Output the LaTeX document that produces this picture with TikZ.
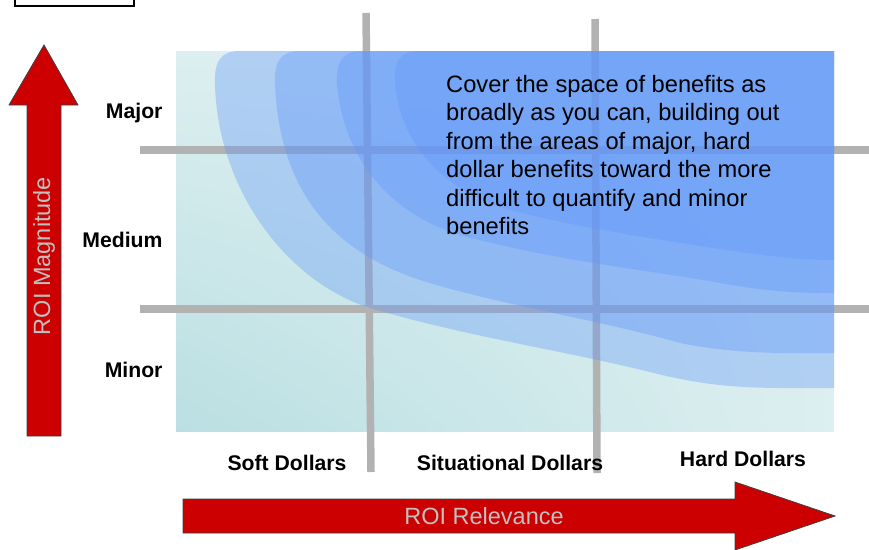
\documentclass[tikz,border=0pt]{standalone}
\usepackage{fontspec}
\setmainfont{Liberation Sans}
\usetikzlibrary{arrows.meta,shadings}

\definecolor{roired}{RGB}{204,0,0}
\definecolor{gridgray}{RGB}{178,178,178}
\definecolor{labelgray}{RGB}{192,192,192}
\definecolor{bandblue}{RGB}{95,150,250}
\definecolor{tealdark}{RGB}{186,223,226}
\definecolor{teallight}{RGB}{221,239,240}

\tikzset{
  band/.style={fill=bandblue, fill opacity=0.35, draw=none},
  gridline/.style={draw=gridgray, line width=7.5pt},
  axisarrow/.style={fill=roired, draw=black!75, line width=0.8pt, line join=miter},
  axislabel/.style={text=labelgray, font=\fontsize{23.5}{28}\selectfont},
  ticklabel/.style={font=\bfseries\fontsize{21.2}{25}\selectfont},
}

\begin{document}
\begin{tikzpicture}[x=1pt, y=-1pt]
  \useasboundingbox (0,0) rectangle (869,549);

  % box cut off at the top
  \draw[line width=2pt] (15,-10) rectangle (134,6);

  % field of benefits
  \shade[lower left=tealdark, upper left=teallight, upper right=teallight,
         lower right=teallight] (176,51) rectangle (834,431);

  % grid
  \draw[gridline] (140,150) -- (869,150);
  \draw[gridline] (140,309) -- (869,309);
  \draw[gridline] (366,13) -- (371,472);
  \draw[gridline] (595,19) -- (597,473);

  % bands, outer to inner
  \fill[band] (834,51) -- (240,51) .. controls (220,51) and (214,62) .. (215,85)
    .. controls (218,190) and (287,282) .. (370,308)
    .. controls (460,335) and (560,350) .. (650,372)
    .. controls (720,390) and (760,388) .. (834,388) -- cycle;
  \fill[band] (834,51) -- (300,51) .. controls (280,51) and (274,62) .. (275,85)
    .. controls (280,190) and (330,250) .. (420,280)
    .. controls (500,305) and (600,320) .. (680,343)
    .. controls (740,355) and (790,353) .. (834,353) -- cycle;
  \fill[band] (834,51) -- (362,51) .. controls (342,51) and (336,62) .. (337,85)
    .. controls (345,165) and (395,215) .. (460,235)
    .. controls (560,262) and (650,270) .. (720,283)
    .. controls (770,292) and (800,293) .. (834,293) -- cycle;
  \fill[band] (834,51) -- (418,51) .. controls (400,51) and (394,62) .. (395,80)
    .. controls (398,140) and (440,190) .. (510,210)
    .. controls (580,228) and (660,240) .. (740,252)
    .. controls (790,259) and (810,260) .. (834,260) -- cycle;

  \node[anchor=north west, inner sep=0pt, align=left,
        font=\fontsize{23.7}{28.5}\selectfont] (note) at (446,75)
    {Cover the space of benefits as\\
     broadly as you can, building out\\
     from the areas of major, hard\\
     dollar benefits toward the more\\
     difficult to quantify and minor\\
     benefits};

  % axes
  \filldraw[axisarrow] (27,436) -- (27,105) -- (9,105) -- (44,45) -- (78,105)
    -- (61,105) -- (61,436) -- cycle;
  \filldraw[axisarrow] (183,499) -- (735,499) -- (735,482) -- (835,516)
    -- (735,550) -- (735,533) -- (183,533) -- cycle;
  \node[axislabel, rotate=90] (magnitude) at (44,256) {ROI Magnitude};
  \node[axislabel] (relevance) at (484,516) {ROI Relevance};

  \foreach \t/\y [count=\i] in {Major/113, Medium/240, Minor/370}
    \node[ticklabel, anchor=east] (row\i) at (166,\y) {\t};
  \foreach \t/\x/\y [count=\i] in {Soft Dollars/287/463,
                                   Situational Dollars/510/463,
                                   Hard Dollars/743/459}
    \node[ticklabel] (col\i) at (\x,\y) {\t};
\end{tikzpicture}
\end{document}
